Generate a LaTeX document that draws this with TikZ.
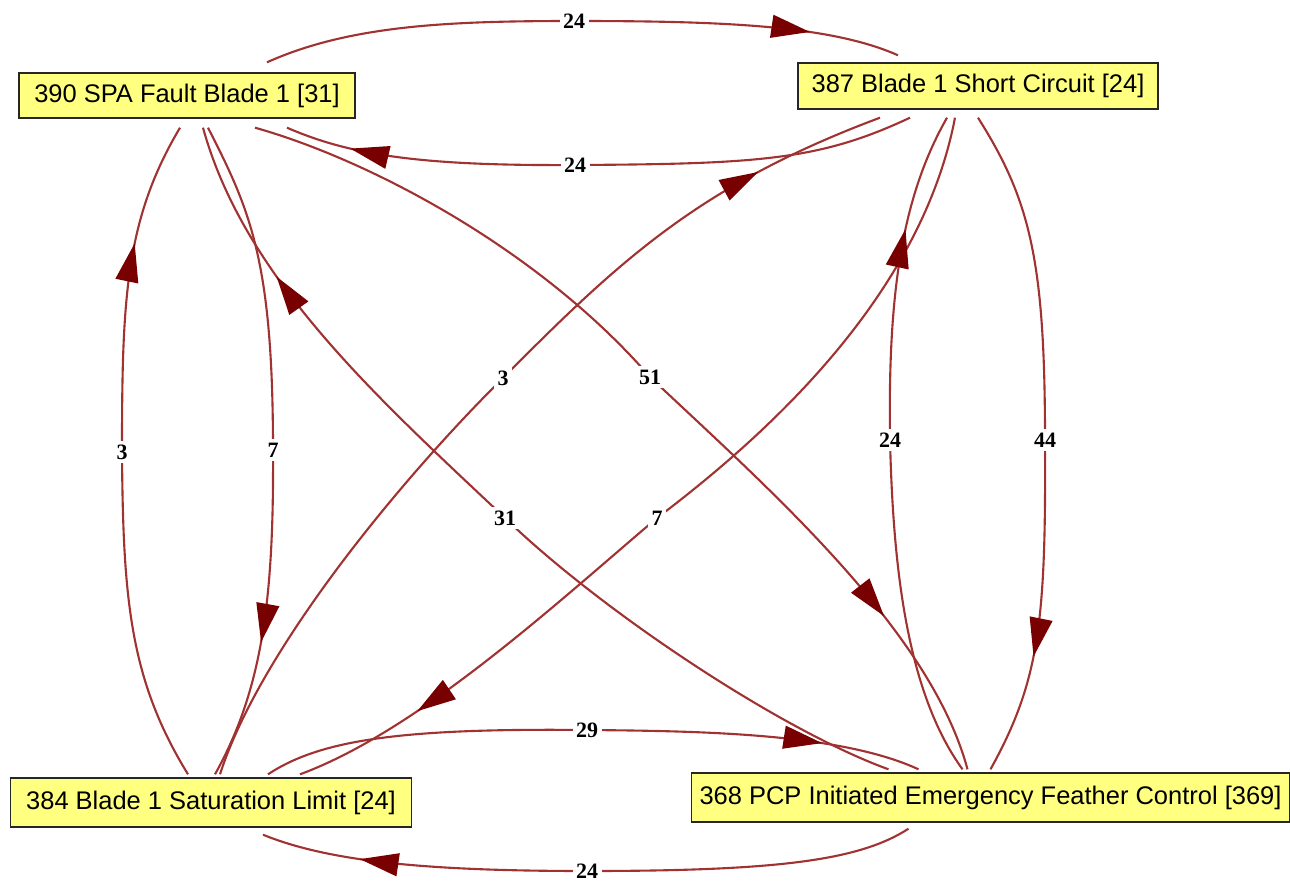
\documentclass[tikz,border=0pt]{standalone}
\usepackage{fontspec}
\setmainfont{Liberation Serif}
\newfontfamily\boxfont{Liberation Sans}
\usetikzlibrary{arrows.meta,decorations.markings}
\definecolor{edgered}{RGB}{160,50,50}
\definecolor{tipred}{RGB}{120,0,0}
\definecolor{boxyellow}{RGB}{255,255,128}

\begin{document}
\begin{tikzpicture}[x=0.02cm, y=-0.02cm,
  arrow/.style={draw=edgered, line width=1.2pt,
    decoration={markings, mark=at position -#1 with {\arrow{Triangle[length=22pt, width=13pt, color=tipred]}}},
    postaction={decorate}}]
\tikzstyle{block} = [rectangle, draw=black!85, line width=0.8pt, fill=boxyellow, inner sep=0pt, text centered, font=\boxfont\fontsize{14.5}{17}\selectfont]
\tikzstyle{weight} = [fill=white, inner sep=2pt, font=\bfseries\fontsize{12.5}{12.5}\selectfont]
%
\useasboundingbox (0,0) rectangle (1290,882);
%
\node (spa)   [block, minimum width=6.72cm, minimum height=0.9cm]  at (187,95.5)  {390 SPA Fault Blade 1 [31]};
\node (short) [block, minimum width=7.2cm, minimum height=0.92cm] at (978,86)    {387 Blade 1 Short Circuit [24]};
\node (sat)   [block, minimum width=8.02cm, minimum height=0.98cm] at (211,802.5) {384 Blade 1 Saturation Limit [24]};
\node (pcp)   [block, minimum width=11.96cm, minimum height=0.98cm] at (990.5,797.5) {368 PCP Initiated Emergency Feather Control [369]};
%
\draw [arrow=52pt] ([shift={(80,-10)}]spa.north) .. controls (350,25) and (450,21) .. (574,21) node[weight] {24} .. controls (720,21) and (830,25) .. ([shift={(-80,-7)}]short.north);
\draw [arrow=38pt] ([shift={(-68,8)}]short.south) .. controls (820,160) and (760,164) .. (575,165) node[weight] {24} .. controls (420,166) and (350,155) .. ([shift={(100,9)}]spa.south);
\draw [arrow=100pt] ([shift={(68,9)}]spa.south) .. controls (370,160) and (540,250) .. (650,377) node[weight] {51} .. controls (770,490) and (930,630) .. ([shift={(-23,-3)}]pcp.north);
\draw [arrow=95pt] ([shift={(-102,-3)}]pcp.north) .. controls (780,730) and (600,610) .. (505,518) node[weight] {31} .. controls (380,400) and (245,280) .. ([shift={(16,9)}]spa.south);
\draw [arrow=71pt] ([shift={(-23,-3)}]sat.north) .. controls (130,680) and (123,600) .. (122,452) node[weight] {3} .. controls (122,300) and (125,220) .. ([shift={(-7,9)}]spa.south);
\draw [arrow=80pt] ([shift={(21,9)}]spa.south) .. controls (250,210) and (273,260) .. (273,450) node[weight] {7} .. controls (274,600) and (262,690) .. ([shift={(4,-3)}]sat.north);
\draw [arrow=76pt] ([shift={(9,-3)}]sat.north) .. controls (260,650) and (400,480) .. (503,378) node[weight] {3} .. controls (620,260) and (700,185) .. ([shift={(-98,8)}]short.south);
\draw [arrow=76pt] ([shift={(-23,8)}]short.south) .. controls (920,300) and (760,440) .. (657,518) node[weight] {7} .. controls (560,600) and (420,730) .. ([shift={(89,-3)}]sat.north);
\draw [arrow=69pt] ([shift={(0,8)}]short.south) .. controls (1030,200) and (1045,260) .. (1045,440) node[weight] {44} .. controls (1046,620) and (1040,680) .. ([shift={(0,-3)}]pcp.north);
\draw [arrow=68pt] ([shift={(-28,-3)}]pcp.north) .. controls (905,690) and (893,560) .. (890,440) node[weight] {24} .. controls (888,300) and (900,200) .. ([shift={(-31,8)}]short.south);
\draw [arrow=57pt] ([shift={(57,-3)}]sat.north) .. controls (320,740) and (400,728) .. (587,730) node[weight] {29} .. controls (700,731) and (840,733) .. ([shift={(-72,-3)}]pcp.north);
\draw [arrow=57pt] ([shift={(-82,6)}]pcp.south) .. controls (860,860) and (780,871) .. (587,871) node[weight] {24} .. controls (430,871) and (330,862) .. ([shift={(52,7)}]sat.south);
\end{tikzpicture}
\end{document}
